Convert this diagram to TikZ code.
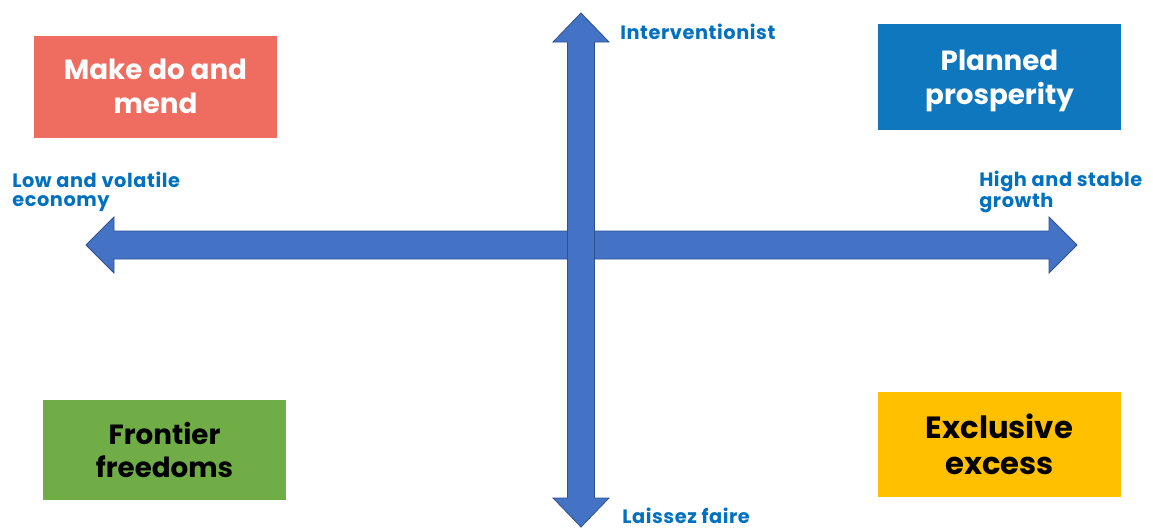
\documentclass[tikz,border=0pt]{standalone}
\usepackage{fontspec}
\setmainfont{Poppins}
\definecolor{arrowblue}{HTML}{4472C4}
\definecolor{arrowedge}{HTML}{2F528F}
\definecolor{labelblue}{HTML}{0070C0}
\definecolor{salmon}{HTML}{EE6C60}
\definecolor{planblue}{HTML}{0F77BD}
\definecolor{frontgreen}{HTML}{70AD47}
\definecolor{exgold}{HTML}{FFC000}
\tikzset{
  bigarrow/.style={fill=arrowblue, draw=arrowedge, line width=0.6pt, line join=miter},
  quadbox/.style={minimum width=243*0.75pt, minimum height=102*0.75pt, inner sep=0pt, align=center, font=\fontsize{20.8}{25}\selectfont\bfseries},
  axislabel/.style={text=labelblue, inner sep=0pt, align=left, font=\fontsize{14.5}{13.8}\selectfont\bfseries\addfontfeatures{LetterSpace=3}}
}
\begin{document}
\begin{tikzpicture}[x=0.75pt,y=-0.75pt]
\useasboundingbox (0,0) rectangle (1153,529);
% horizontal arrow
\draw[bigarrow] (86,245) -- (114,217) -- (114,231) -- (1049,231) -- (1049,217) -- (1077,245)
  -- (1049,273) -- (1049,259) -- (114,259) -- (114,273) -- cycle;
% vertical arrow
\draw[bigarrow] (581,13) -- (609,42) -- (594.5,42) -- (594.5,498) -- (609,498) -- (581,527)
  -- (553,498) -- (567.5,498) -- (567.5,42) -- (553,42) -- cycle;
% boxes
\node[quadbox, fill=salmon, text=white, minimum height=102*0.75pt] (mend) at (155.5,86.5) {Make do and\\mend};
\node[quadbox, fill=planblue, minimum height=106*0.75pt] (plan) at (999.5,77) {};
\node[quadbox, text=white, minimum height=0pt] (plantext) at ([yshift=-3pt]plan.center) {Planned\\prosperity};
\node[quadbox, fill=frontgreen, text=black, minimum height=100*0.75pt] (front) at (164.5,450) {Frontier\\freedoms};
\node[quadbox, fill=exgold, text=black, minimum height=105*0.75pt, font=\fontsize{23}{27}\selectfont\bfseries] (excess) at (999.5,444.5) {Exclusive\\excess};
% axis labels
\node[axislabel, anchor=base west] (interv) at (620,39) {Interventionist};
\node[axislabel, anchor=base west] (laissez) at (622,523) {Laissez faire};
\node[axislabel, anchor=west] (low) at (12,192) {Low and volatile\\economy};
\node[axislabel, anchor=west] (high) at (979,192) {High and stable\\growth};
\end{tikzpicture}
\end{document}
